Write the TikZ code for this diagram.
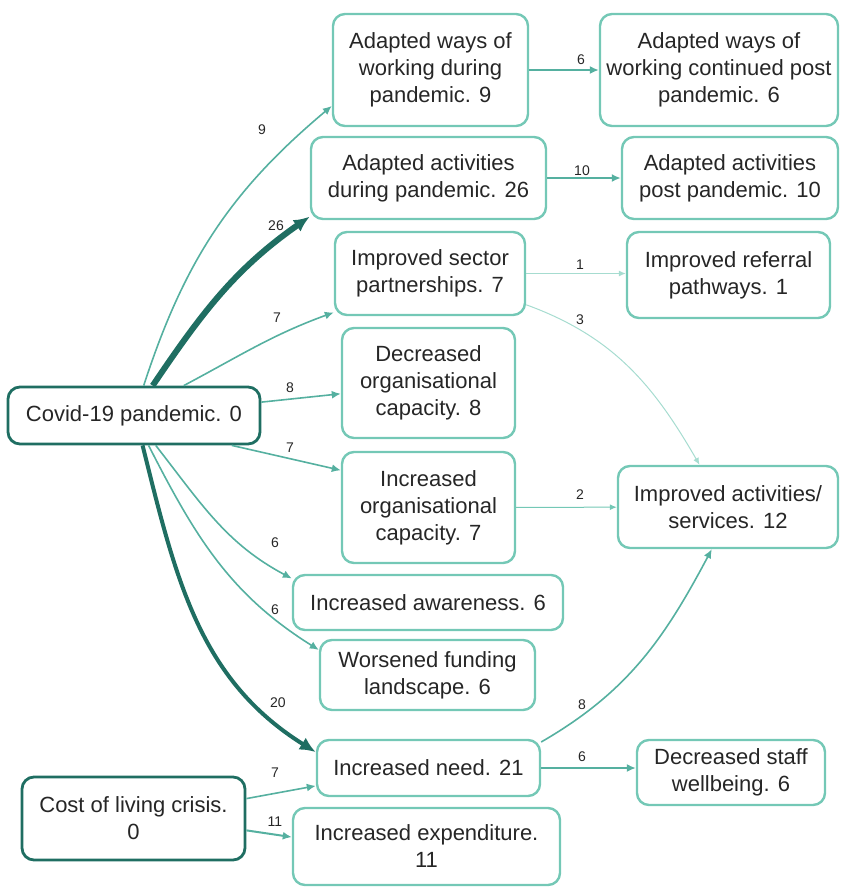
\documentclass[tikz,border=0pt]{standalone}
\usepackage{fontspec}
\setmainfont{Liberation Sans}
\usetikzlibrary{arrows.meta}
\definecolor{tealdark}{HTML}{1F6E62}
\definecolor{tealmid}{HTML}{55B0A0}
\definecolor{teallight}{HTML}{74C8B6}
\definecolor{tealfaint}{HTML}{A6DCD0}
\begin{document}
\begin{tikzpicture}[x=0.5pt,y=0.5pt,
  box/.style={draw=teallight,line width=1.2pt,rounded corners=6pt,align=center,
    font=\fontsize{11}{13.5}\selectfont,text=black!85,inner sep=2pt},
  src/.style={box,draw=tealdark,line width=1.4pt},
  lbl/.style={font=\fontsize{7}{8}\selectfont,text=black!85,inner sep=0pt},
  flow/.style={draw=tealmid,line width=.8pt,-{Latex[length=4.5pt,width=4pt]}},
  heavy/.style={flow,draw=tealdark,-{Latex[length=8pt,width=7pt]}},
  faint/.style={flow,draw=tealfaint,line width=.5pt,-{Latex[length=3.5pt,width=3pt]}}]
\useasboundingbox (0,0) rectangle (854,-890);
% causes
\node[src,minimum width=126pt,minimum height=28.5pt] (covid) at (134,-415.5) {Covid-19 pandemic. 0};
\node[src,minimum width=111.5pt,minimum height=41.5pt] (cost) at (133.5,-818.5) {Cost of living crisis.\\0};
% middle column
\node[box,minimum width=97.5pt,minimum height=56pt] (ways) at (430.5,-70) {Adapted ways of\\working during\\pandemic. 9};
\node[box,minimum width=117.5pt,minimum height=41pt] (acts) at (428.5,-178) {Adapted activities\\during pandemic. 26};
\node[box,minimum width=95pt,minimum height=41.5pt] (partn) at (430,-273.5) {Improved sector\\partnerships. 7};
\node[box,minimum width=86.5pt,minimum height=55pt] (capdown) at (428.5,-383) {Decreased\\organisational\\capacity. 8};
\node[box,minimum width=86.5pt,minimum height=55.5pt] (capup) at (428.5,-507.5) {Increased\\organisational\\capacity. 7};
\node[box,minimum width=135pt,minimum height=27.5pt] (aware) at (428,-602.5) {Increased awareness. 6};
\node[box,minimum width=107.5pt,minimum height=35pt] (funding) at (427.5,-675) {Worsened funding\\landscape. 6};
\node[box,minimum width=111.5pt,minimum height=28pt] (need) at (428.5,-768) {Increased need. 21};
\node[box,minimum width=133.5pt,minimum height=38.5pt] (spend) at (426.5,-846.5) {Increased expenditure.\\11};
% right column
\node[box,minimum width=119pt,minimum height=56pt] (wayspost) at (719,-70) {Adapted ways of\\working continued post\\pandemic. 6};
\node[box,minimum width=108pt,minimum height=41pt] (actspost) at (730,-178) {Adapted activities\\post pandemic. 10};
\node[box,minimum width=101.5pt,minimum height=43pt] (referral) at (728.5,-275) {Improved referral\\pathways. 1};
\node[box,minimum width=110pt,minimum height=41pt] (services) at (728,-507) {Improved activities/\\services. 12};
\node[box,minimum width=94pt,minimum height=32.5pt] (staff) at (731,-772.5) {Decreased staff\\wellbeing. 6};
% flows out of covid
\draw[flow] (covid.72) to[out=72,in=220] (ways.200) node[lbl] at (262,-130) {9};
\draw[heavy,line width=3pt] (covid.58) to[out=56,in=215] (acts.198) node[lbl] at (276,-226) {26};
\draw[flow] (covid.31) to[out=28,in=200] (partn.202) node[lbl] at (277,-318) {7};
\draw[flow] (covid.6) -- (capdown.187) node[lbl] at (290,-388) {8};
\draw[flow] (covid.-17) -- (capup.157) node[lbl] at (290,-448) {7};
\draw[flow] (covid.-54) to[out=-52,in=152] (aware.170) node[lbl] at (275,-543) {6};
\draw[flow] (covid.-64) to[out=-63,in=148] (funding.167) node[lbl] at (275,-610) {6};
\draw[heavy,line width=2pt] (covid.-74) to[out=-76,in=148] (need.172) node[lbl] at (278,-703) {20};
% flows out of cost of living
\draw[flow] (cost.10) -- (need.189) node[lbl] at (275,-773) {7};
\draw[flow,line width=1pt] (cost.-6) -- (spend.176) node[lbl] at (275,-822) {11};
% second step
\draw[flow] (ways) -- (wayspost) node[lbl] at (581,-60) {6};
\draw[flow,line width=1.2pt] (acts) -- (actspost) node[lbl] at (582,-171) {10};
\draw[faint] (partn.east) -- (partn.east -| referral.west) node[lbl] at (580,-265) {1};
\draw[faint] (partn.-18) to[out=-20,in=120] (services.124) node[lbl] at (580,-320) {3};
\draw[faint,draw=teallight] (capup) -- (services) node[lbl] at (580,-495) {2};
\draw[flow] (need.13) to[out=30,in=242] (services.249) node[lbl] at (582,-705) {8};
\draw[flow] (need.east) -- (need.east -| staff.west) node[lbl] at (582,-757) {6};
\end{tikzpicture}
\end{document}
